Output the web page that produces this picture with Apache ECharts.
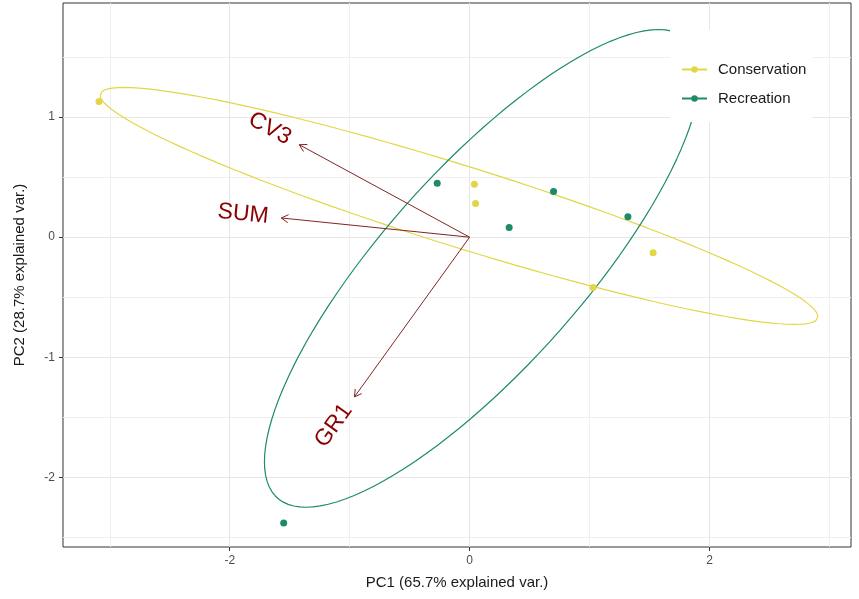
<!DOCTYPE html>
<html>
<head>
<meta charset="utf-8">
<script src="https://cdn.jsdelivr.net/npm/echarts@6/dist/echarts.min.js"></script>
<style>
  html, body { margin: 0; padding: 0; background: #fff; }
  #chart { width: 859px; height: 599px; }
</style>
</head>
<body>
<div id="chart"></div>
<script>
// scores per group
const groups = ['Conservation', 'Recreation']
const conservationPC1 = [-3.09, 0.04, 0.05, 1.53, 1.03]
const conservationPC2 = [1.13, 0.44, 0.28, -0.13, -0.42]
const recreationPC1 = [-0.27, 0.70, 0.33, 1.32, -1.55]
const recreationPC2 = [0.45, 0.38, 0.08, 0.17, -2.38]

// variable loadings (arrow tips)
const variables = ['CV3', 'SUM', 'GR1']
const loadingPC1 = [-1.42, -1.57, -0.96]
const loadingPC2 = [0.77, 0.16, -1.33]

// axes
const xMajorTicks = [-2, 0, 2]
const xMinorTicks = [-3, -1, 1, 3]
const yMajorTicks = [-2, -1, 0, 1]
const yMinorTicks = [-2.5, -1.5, -0.5, 0.5, 1.5]
const xRange = [-3.39, 3.18]
const yRange = [-2.58, 1.95]

const ellipseProb = 0.75
const colors = ['#E3D646', '#1D8A68']
const arrowColor = '#832424'
const labelColor = '#8B0000'
const labelFont = '23px "Liberation Sans", Arial, sans-serif'

// normal data ellipse from the group's mean and covariance
function dataEllipse(xs, ys) {
  const n = xs.length
  const mx = xs.reduce((a, b) => a + b, 0) / n
  const my = ys.reduce((a, b) => a + b, 0) / n
  let sxx = 0, syy = 0, sxy = 0
  for (let i = 0; i < n; i++) {
    sxx += (xs[i] - mx) * (xs[i] - mx)
    syy += (ys[i] - my) * (ys[i] - my)
    sxy += (xs[i] - mx) * (ys[i] - my)
  }
  sxx /= n - 1; syy /= n - 1; sxy /= n - 1
  const sx = Math.sqrt(sxx), sy = Math.sqrt(syy)
  const r = sxy / (sx * sy)
  const ed = Math.sqrt(-2 * Math.log(1 - ellipseProb))
  const pts = []
  for (let k = 0; k <= 120; k++) {
    const t = (k / 120) * 2 * Math.PI
    pts.push([
      mx + ed * sx * Math.cos(t),
      my + ed * sy * (r * Math.cos(t) + Math.sqrt(1 - r * r) * Math.sin(t))
    ])
  }
  return pts
}

function zip(xs, ys) {
  return xs.map((x, i) => [x, ys[i]])
}

const scores = [
  zip(conservationPC1, conservationPC2),
  zip(recreationPC1, recreationPC2)
]

const measureCtx = document.createElement('canvas').getContext('2d')
measureCtx.font = labelFont

function renderArrow(params, api) {
  const x = api.value(0)
  const y = api.value(1)
  const name = variables[params.dataIndex]
  const o = api.coord([0, 0])
  const t = api.coord([x, y])
  const dx = t[0] - o[0], dy = t[1] - o[1]
  const len = Math.sqrt(dx * dx + dy * dy)
  const ux = dx / len, uy = dy / len
  const head = 8, spread = Math.PI / 6
  const a = Math.atan2(-uy, -ux)
  const h1 = [t[0] + head * Math.cos(a + spread), t[1] + head * Math.sin(a + spread)]
  const h2 = [t[0] + head * Math.cos(a - spread), t[1] + head * Math.sin(a - spread)]

  // ggplot-style label: angle = atan(y/x), hjust = (1 - 1.5*sign(x)) / 2
  const angle = Math.atan(y / x)
  const w = measureCtx.measureText(name).width
  const hj = (1 - 1.5 * Math.sign(x)) / 2
  const shift = (0.5 - hj) * w
  const cx = t[0] + shift * Math.cos(angle)
  const cy = t[1] - shift * Math.sin(angle)

  return {
    type: 'group',
    children: [
      {
        type: 'line',
        shape: { x1: o[0], y1: o[1], x2: t[0], y2: t[1] },
        style: { stroke: arrowColor, lineWidth: 1 }
      },
      {
        type: 'polyline',
        shape: { points: [h1, t, h2] },
        style: { stroke: arrowColor, lineWidth: 1, fill: null }
      },
      {
        type: 'text',
        x: cx,
        y: cy,
        rotation: angle,
        style: {
          text: name,
          font: labelFont,
          fill: labelColor,
          align: 'center',
          verticalAlign: 'middle'
        }
      }
    ]
  }
}

const series = []
groups.forEach((g, i) => {
  series.push({
    name: g,
    type: 'line',
    data: dataEllipse(scores[i].map(p => p[0]), scores[i].map(p => p[1])),
    showSymbol: false,
    symbol: 'circle',
    symbolSize: 7,
    silent: true,
    lineStyle: { color: colors[i], width: 1.2 },
    itemStyle: { color: colors[i] },
    z: 2
  })
})
groups.forEach((g, i) => {
  series.push({
    name: g,
    type: 'scatter',
    data: scores[i],
    symbolSize: 7,
    itemStyle: { color: colors[i], opacity: 1 },
    z: 3
  })
})
series.push({
  type: 'custom',
  renderItem: renderArrow,
  data: zip(loadingPC1, loadingPC2),
  silent: true,
  z: 4
})

const chart = echarts.init(document.getElementById('chart'))
chart.setOption({
  animation: false,
  backgroundColor: '#fff',
  textStyle: { fontFamily: '"Liberation Sans", Arial, sans-serif' },
  grid: {
    left: 63, right: 8, top: 3, bottom: 52,
    show: true, borderColor: '#333', borderWidth: 1, backgroundColor: 'transparent'
  },
  legend: {
    orient: 'vertical',
    left: 670,
    top: 30,
    data: groups,
    backgroundColor: '#fff',
    padding: [32, 6, 16, 11],
    itemWidth: 25,
    itemHeight: 8,
    itemGap: 14,
    textStyle: { fontSize: 15, color: '#1a1a1a', padding: [0, 0, 0, 6] }
  },
  xAxis: [
    {
      type: 'value',
      min: xRange[0],
      max: xRange[1],
      name: 'PC1 (65.7% explained var.)',
      nameLocation: 'middle',
      nameGap: 28,
      nameTextStyle: { fontSize: 15, color: '#1a1a1a' },
      axisLine: { show: false, onZero: false },
      axisTick: { show: true, customValues: xMajorTicks, length: 4, lineStyle: { color: '#333' } },
      axisLabel: { customValues: xMajorTicks, fontSize: 12, color: '#4d4d4d', margin: 8 },
      splitLine: { show: true, lineStyle: { color: '#e6e6e6', width: 1 } }
    },
    {
      type: 'value',
      min: xRange[0],
      max: xRange[1],
      position: 'bottom',
      axisLine: { show: false, onZero: false },
      axisTick: { show: false, customValues: xMinorTicks },
      axisLabel: { show: false, customValues: xMinorTicks },
      splitLine: { show: true, lineStyle: { color: '#efefef', width: 1 } }
    }
  ],
  yAxis: [
    {
      type: 'value',
      min: yRange[0],
      max: yRange[1],
      name: 'PC2 (28.7% explained var.)',
      nameLocation: 'middle',
      nameGap: 36,
      nameTextStyle: { fontSize: 15, color: '#1a1a1a' },
      axisLine: { show: false, onZero: false },
      axisTick: { show: true, customValues: yMajorTicks, length: 4, lineStyle: { color: '#333' } },
      axisLabel: { customValues: yMajorTicks, fontSize: 12, color: '#4d4d4d', margin: 8 },
      splitLine: { show: true, lineStyle: { color: '#e6e6e6', width: 1 } }
    },
    {
      type: 'value',
      min: yRange[0],
      max: yRange[1],
      position: 'left',
      axisLine: { show: false, onZero: false },
      axisTick: { show: false, customValues: yMinorTicks },
      axisLabel: { show: false, customValues: yMinorTicks },
      splitLine: { show: true, lineStyle: { color: '#efefef', width: 1 } }
    }
  ],
  series: series
})
</script>
</body>
</html>
